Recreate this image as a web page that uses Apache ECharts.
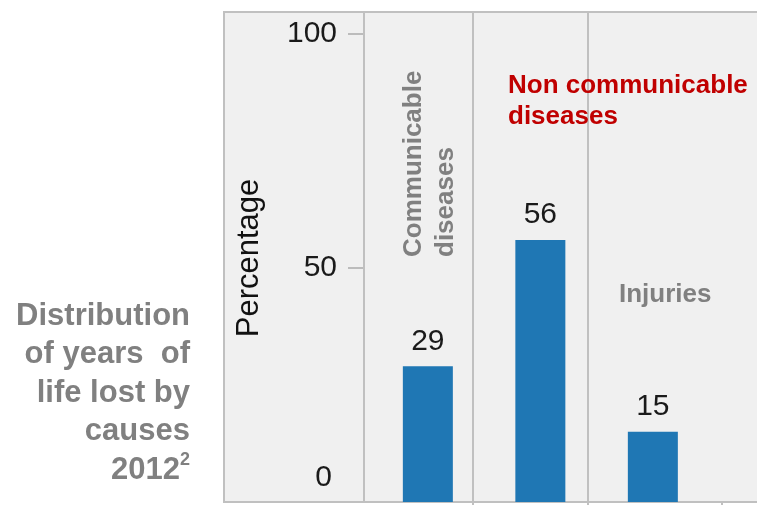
<!DOCTYPE html>
<html>
<head>
<meta charset="utf-8">
<script src="https://cdn.jsdelivr.net/npm/echarts@6/dist/echarts.min.js"></script>
<style>
  html, body { margin: 0; padding: 0; background: #fff; }
  #chart { width: 757px; height: 505px; }
</style>
</head>
<body>
<div id="chart"></div>
<script>
  // 数据
  var categories = ['Communicable diseases', 'Non communicable diseases', 'Injuries'];
  var values = [29, 56, 15];
  var yTicks = [0, 50, 100];
  var titleLines = ['Distribution', 'of years  of', 'life lost by', 'causes', '2012'];

  var font = '"Liberation Sans", Arial, sans-serif';
  var gray = '#808080';
  var lineColor = '#c0c0c0';

  var chart = echarts.init(document.getElementById('chart'));

  function vline(x, y1, y2) {
    return { type: 'line', z: 1, shape: { x1: x, y1: y1, x2: x, y2: y2 }, style: { stroke: lineColor, lineWidth: 2 } };
  }
  function hline(y, x1, x2) {
    return { type: 'line', z: 1, shape: { x1: x1, y1: y, x2: x2, y2: y }, style: { stroke: lineColor, lineWidth: 2 } };
  }

  var option = {
    animation: false,
    textStyle: { fontFamily: font },
    grid: { left: 371.6, right: 47.9, top: 34, bottom: 3 },
    xAxis: {
      type: 'category',
      data: categories,
      axisLine: { show: false },
      axisTick: { show: false },
      axisLabel: { show: false },
      splitLine: { show: false }
    },
    yAxis: {
      type: 'value',
      min: yTicks[0],
      max: yTicks[yTicks.length - 1],
      interval: 50,
      offset: 7.6,
      name: 'Percentage',
      nameLocation: 'middle',
      nameGap: 99,
      nameTextStyle: { fontSize: 31, color: '#111', fontFamily: font, padding: [0, 0, 0, 20] },
      axisLine: { show: false },
      axisTick: { show: true, length: 16, lineStyle: { color: '#aaa', width: 1.5 } },
      splitLine: { show: false },
      axisLabel: {
        margin: 27,
        fontSize: 30,
        color: '#1a1a1a',
        formatter: function (v) { return v === 0 ? '{z|0}' : '{n|' + v + '}'; },
        rich: {
          n: { fontSize: 30, color: '#1a1a1a', fontFamily: font },
          z: { fontSize: 30, color: '#1a1a1a', fontFamily: font, padding: [0, 5, 48, 0] }
        }
      }
    },
    series: [{
      type: 'bar',
      data: values,
      barWidth: 50,
      z: 5,
      itemStyle: { color: '#1f77b4' },
      label: {
        show: true,
        position: 'top',
        distance: 10,
        fontSize: 30,
        color: '#1a1a1a',
        fontFamily: font
      }
    }],
    graphic: [
      { type: 'rect', z: -10, shape: { x: 224, y: 12, width: 533, height: 490 }, style: { fill: '#f0f0f0' } },
      hline(12, 223, 757),
      hline(502, 223, 757),
      vline(224, 12, 502),
      vline(364, 12, 502),
      vline(473, 12, 505),
      vline(588, 12, 505),
      vline(722, 502, 505),
      {
        type: 'text', z: 10, x: 398, y: 257, rotation: Math.PI / 2,
        style: {
          text: 'Communicable\ndiseases', fill: gray, font: 'bold 26px ' + font,
          align: 'left', verticalAlign: 'top', lineHeight: 32
        }
      },
      {
        type: 'text', z: 10, x: 508, y: 70,
        style: {
          text: 'Non communicable\ndiseases', fill: '#c00000', font: 'bold 26px ' + font,
          align: 'left', verticalAlign: 'top', lineHeight: 31
        }
      },
      {
        type: 'text', z: 10, x: 619, y: 280,
        style: { text: categories[2], fill: gray, font: 'bold 26px ' + font, align: 'left', verticalAlign: 'top', lineHeight: 30 }
      },
      {
        type: 'text', z: 10, x: 190, y: 297,
        style: {
          text: titleLines.slice(0, 4).join('\n') + '\n{a|' + titleLines[4] + '}{s|2}',
          fill: gray, font: 'bold 31px ' + font, align: 'right', verticalAlign: 'top', lineHeight: 38.5,
          rich: {
            a: { fill: gray, font: 'bold 31px ' + font, lineHeight: 38.5 },
            s: { fill: gray, font: 'bold 18px ' + font, lineHeight: 38.5, verticalAlign: 'top', padding: [0, 0, 12, 0] }
          }
        }
      }
    ]
  };

  chart.setOption(option);
  window.addEventListener('resize', function () {
    chart.resize();
  });
</script>
</body>
</html>
